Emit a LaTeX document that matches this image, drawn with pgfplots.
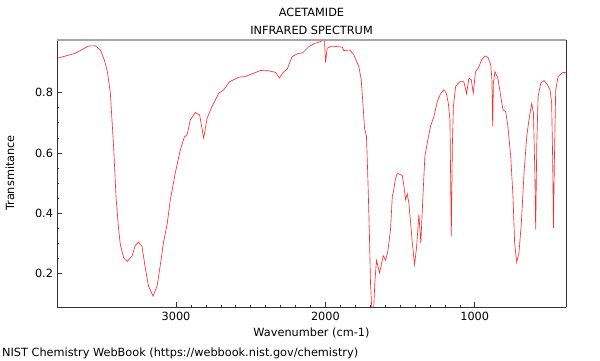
\documentclass[border=0pt]{standalone}
\usepackage{fontspec}
\setmainfont{DejaVu Sans}
\usepackage{pgfplots}
\pgfplotsset{compat=1.18}
\definecolor{specred}{RGB}{255,45,45}
\begin{document}
\fontsize{11.3bp}{13.5bp}\selectfont
\begin{tikzpicture}[x=1bp,y=1bp]
\path[use as bounding box] (0,0) rectangle (600,360);
\begin{axis}[
  at={(57bp,53bp)}, anchor=south west,
  width=509bp, height=267bp, scale only axis,
  x dir=reverse, xmin=389, xmax=3797, ymin=0.09, ymax=0.974,
  xtick={1000,2000,3000}, ytick={0.2,0.4,0.6,0.8},
  minor x tick num=9, minor y tick num=3,
  xtick pos=bottom, ytick pos=left,
  tick align=inside,
  major tick length=5bp, minor tick length=2.5bp,
  tick style={black!80, line width=0.6bp},
  /pgf/number format/assume math mode=true,
  xticklabel style={font=\fontsize{11.3bp}{13.5bp}\selectfont, yshift=-1bp},
  yticklabel style={font=\fontsize{11.3bp}{13.5bp}\selectfont},
  scaled x ticks=false,
  x tick label style={/pgf/number format/1000 sep={}},
  y tick label style={/pgf/number format/fixed, /pgf/number format/precision=1, /pgf/number format/fixed zerofill},
  axis line style={draw=none},
  clip=true,
]
\addplot[specred, line width=0.65bp] coordinates {
(3791,0.914) (3675,0.930) (3586,0.954) (3541,0.955) (3507,0.941) (3480,0.908) (3460,0.870)
(3440,0.800) (3418,0.621) (3402,0.456) (3385,0.350) (3373,0.297) (3351,0.253)
(3328,0.241) (3295,0.258) (3273,0.294) (3251,0.305) (3228,0.291) (3206,0.220)
(3184,0.159) (3154,0.126) (3127,0.159) (3105,0.230) (3083,0.307) (3060,0.363)
(3038,0.445) (3005,0.534) (2971,0.611) (2944,0.653) (2926,0.660) (2904,0.710)
(2871,0.734) (2842,0.726) (2815,0.649) (2792,0.715) (2759,0.754) (2714,0.798)
(2681,0.809) (2641,0.836) (2580,0.851) (2536,0.853) (2491,0.862) (2435,0.873)
(2379,0.872) (2334,0.867) (2308,0.848) (2279,0.869) (2256,0.877) (2223,0.919)
(2189,0.928) (2151,0.932) (2111,0.952) (2071,0.963) (2055,0.965) (2015,0.972)
(2006,0.975) (1999,0.900) (1988,0.947) (1954,0.954) (1921,0.952) (1887,0.950)
(1877,0.939) (1836,0.941) (1810,0.925) (1776,0.886) (1760,0.842) (1749,0.765)
(1738,0.682) (1725,0.655) (1716,0.522) (1706,0.346) (1698,0.170) (1688,0.07)
(1678,0.07) (1669,0.170) (1658,0.244) (1637,0.203) (1613,0.260) (1597,0.245)
(1582,0.274) (1564,0.346) (1552,0.456) (1541,0.480) (1533,0.511) (1519,0.531)
(1508,0.531) (1485,0.525) (1474,0.489) (1463,0.445) (1452,0.465) (1441,0.434)
(1418,0.302) (1403,0.230) (1389,0.291) (1374,0.396) (1361,0.302) (1347,0.456)
(1334,0.588) (1318,0.633) (1296,0.688) (1273,0.721) (1251,0.770) (1229,0.796)
(1207,0.809) (1191,0.798) (1177,0.765) (1166,0.710) (1157,0.324) (1150,0.621)
(1143,0.754) (1128,0.820) (1101,0.836) (1073,0.836) (1055,0.796) (1039,0.848)
(1023,0.842) (1010,0.798) (995,0.869) (976,0.881) (954,0.908) (932,0.921)
(912,0.917) (893,0.892) (885,0.842) (880,0.688) (875,0.831) (865,0.869)
(845,0.848) (826,0.787) (811,0.743) (793,0.737) (778,0.688) (759,0.588)
(744,0.456) (733,0.302) (719,0.238) (704,0.269) (688,0.368) (670,0.534)
(652,0.655) (637,0.710) (619,0.763) (607,0.732) (598,0.544) (592,0.346)
(585,0.621) (576,0.787) (558,0.831) (536,0.840) (513,0.825) (496,0.809)
(485,0.765) (478,0.567) (473,0.352) (467,0.567) (458,0.809) (442,0.853)
(413,0.866) (389,0.867)
};
\end{axis}
\draw[black!80, line width=0.8bp] (57,53) -- (57,320);
\draw[black!80, line width=0.8bp] (566,53) -- (566,320);
\draw[black!80, line width=0.8bp] (57,53) -- (566,53);
\draw[gray!70, line width=1.6bp] (56.6,320) -- (566.4,320);
\node at (311.5,347.5) {ACETAMIDE};
\node at (311.5,329.5) {INFRARED SPECTRUM};
\node at (311.5,27) {Wavenumber (cm-1)};
\node[rotate=90] at (10,187) {Transmitance};
\node[anchor=west, inner sep=0pt] at (2,7) {NIST Chemistry WebBook (https://webbook.nist.gov/chemistry)};
\end{tikzpicture}
\end{document}
